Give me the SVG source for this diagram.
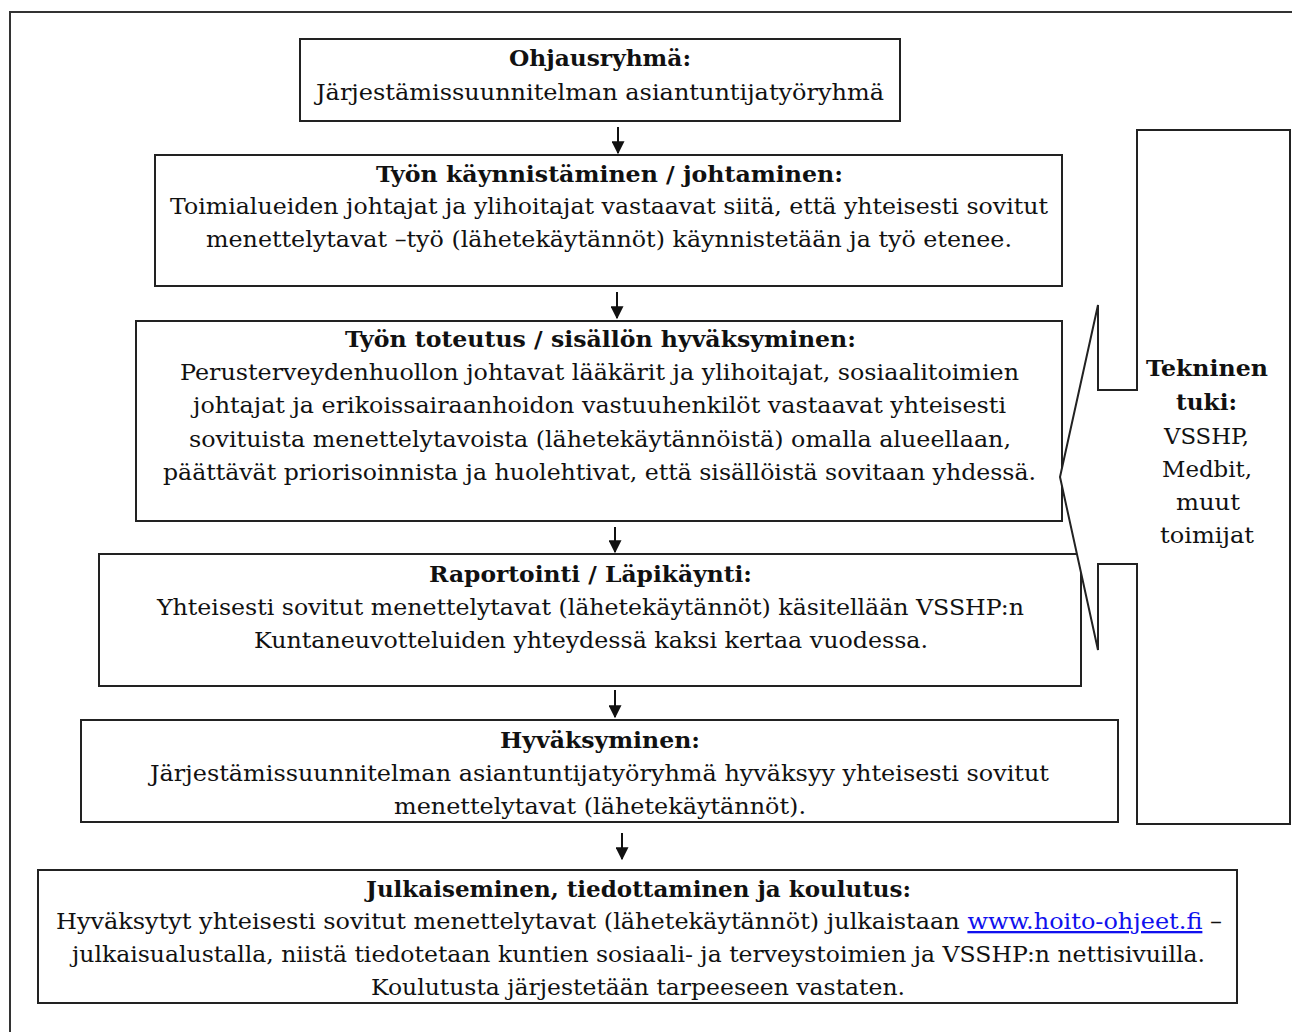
<svg xmlns="http://www.w3.org/2000/svg" width="1292" height="1032" viewBox="0 0 1292 1032">
<defs>
<style>
.box{fill:#fff;stroke:#222;stroke-width:2}
.t{font-family:"DejaVu Serif","Liberation Serif",serif;font-size:23px;fill:#111;text-anchor:start}
.b{font-weight:bold}
.c{stroke:#111;stroke-width:2;fill:none}
.lnk{fill:#1010ee;text-decoration:underline}
</style>
<marker id="ah" viewBox="0 0 10 10" refX="9" refY="5" markerWidth="6.5" markerHeight="6.5" markerUnits="strokeWidth" orient="auto">
<path d="M0,0 L10,5 L0,10 Z" fill="#111"/>
</marker>
</defs>
<rect width="1292" height="1032" fill="#fff"/>
<path d="M10,1032 V12 H1292" fill="none" stroke="#333" stroke-width="2"/>

<g id="n1">
<rect class="box" x="300" y="39" width="600" height="82"/>
<text class="t b" x="509" y="66" textLength="182" lengthAdjust="spacingAndGlyphs">Ohjausryhmä:</text>
<text class="t" x="316" y="100" textLength="568" lengthAdjust="spacingAndGlyphs">Järjestämissuunnitelman asiantuntijatyöryhmä</text>
</g>

<g id="n2">
<rect class="box" x="155" y="155" width="907" height="131"/>
<text class="t b" x="376" y="182" textLength="467" lengthAdjust="spacingAndGlyphs">Työn käynnistäminen / johtaminen:</text>
<text class="t" x="170" y="214" textLength="878" lengthAdjust="spacingAndGlyphs">Toimialueiden johtajat ja ylihoitajat vastaavat siitä, että yhteisesti sovitut</text>
<text class="t" x="206" y="247" textLength="806" lengthAdjust="spacingAndGlyphs">menettelytavat –työ (lähetekäytännöt) käynnistetään ja työ etenee.</text>
</g>

<g id="n3">
<rect class="box" x="136" y="321" width="926" height="200"/>
<text class="t b" x="345" y="347" textLength="511" lengthAdjust="spacingAndGlyphs">Työn toteutus / sisällön hyväksyminen:</text>
<text class="t" x="180" y="380" textLength="839" lengthAdjust="spacingAndGlyphs">Perusterveydenhuollon johtavat lääkärit ja ylihoitajat, sosiaalitoimien</text>
<text class="t" x="193" y="413" textLength="813" lengthAdjust="spacingAndGlyphs">johtajat ja erikoissairaanhoidon vastuuhenkilöt vastaavat yhteisesti</text>
<text class="t" x="189" y="447" textLength="822" lengthAdjust="spacingAndGlyphs">sovituista menettelytavoista (lähetekäytännöistä) omalla alueellaan,</text>
<text class="t" x="163" y="480" textLength="873" lengthAdjust="spacingAndGlyphs">päättävät priorisoinnista ja huolehtivat, että sisällöistä sovitaan yhdessä.</text>
</g>

<g id="n4">
<rect class="box" x="99" y="554" width="982" height="132"/>
<text class="t b" x="429" y="582" textLength="323" lengthAdjust="spacingAndGlyphs">Raportointi / Läpikäynti:</text>
<text class="t" x="157" y="615" textLength="867" lengthAdjust="spacingAndGlyphs">Yhteisesti sovitut menettelytavat (lähetekäytännöt) käsitellään VSSHP:n</text>
<text class="t" x="254" y="648" textLength="674" lengthAdjust="spacingAndGlyphs">Kuntaneuvotteluiden yhteydessä kaksi kertaa vuodessa.</text>
</g>

<g id="n5">
<rect class="box" x="81" y="720" width="1037" height="102"/>
<text class="t b" x="500" y="748" textLength="200" lengthAdjust="spacingAndGlyphs">Hyväksyminen:</text>
<text class="t" x="150" y="781" textLength="899" lengthAdjust="spacingAndGlyphs">Järjestämissuunnitelman asiantuntijatyöryhmä hyväksyy yhteisesti sovitut</text>
<text class="t" x="394" y="814" textLength="412" lengthAdjust="spacingAndGlyphs">menettelytavat (lähetekäytännöt).</text>
</g>

<g id="n6">
<rect class="box" x="38" y="870" width="1199" height="133"/>
<text class="t b" x="366" y="897" textLength="545" lengthAdjust="spacingAndGlyphs">Julkaiseminen, tiedottaminen ja koulutus:</text>
<text class="t" x="56" y="929" textLength="1166" lengthAdjust="spacingAndGlyphs">Hyväksytyt yhteisesti sovitut menettelytavat (lähetekäytännöt) julkaistaan <tspan class="lnk">www.hoito-ohjeet.fi</tspan> –</text>
<text class="t" x="72" y="962" textLength="1133" lengthAdjust="spacingAndGlyphs">julkaisualustalla, niistä tiedotetaan kuntien sosiaali- ja terveystoimien ja VSSHP:n nettisivuilla.</text>
<text class="t" x="371" y="995" textLength="534" lengthAdjust="spacingAndGlyphs">Koulutusta järjestetään tarpeeseen vastaten.</text>
</g>

<g id="n7">
<path class="box" d="M1137,130 H1290 V824 H1137 V564 H1098 V650 L1060,477 L1098,305 V390 H1137 Z"/>
<text class="t b" x="1146" y="376" textLength="122" lengthAdjust="spacingAndGlyphs">Tekninen</text>
<text class="t b" x="1176" y="410" textLength="61" lengthAdjust="spacingAndGlyphs">tuki:</text>
<text class="t" x="1164" y="444" textLength="85" lengthAdjust="spacingAndGlyphs">VSSHP,</text>
<text class="t" x="1162" y="477" textLength="90" lengthAdjust="spacingAndGlyphs">Medbit,</text>
<text class="t" x="1176" y="510" textLength="64" lengthAdjust="spacingAndGlyphs">muut</text>
<text class="t" x="1160" y="543" textLength="94" lengthAdjust="spacingAndGlyphs">toimijat</text>
</g>

<g id="connectors">
<line class="c" x1="618" y1="127" x2="618" y2="153" marker-end="url(#ah)"/>
<line class="c" x1="617" y1="292" x2="617" y2="318" marker-end="url(#ah)"/>
<line class="c" x1="615" y1="527" x2="615" y2="552" marker-end="url(#ah)"/>
<line class="c" x1="615" y1="690" x2="615" y2="717" marker-end="url(#ah)"/>
<line class="c" x1="622" y1="833" x2="622" y2="859" marker-end="url(#ah)"/>
</g>
</svg>
